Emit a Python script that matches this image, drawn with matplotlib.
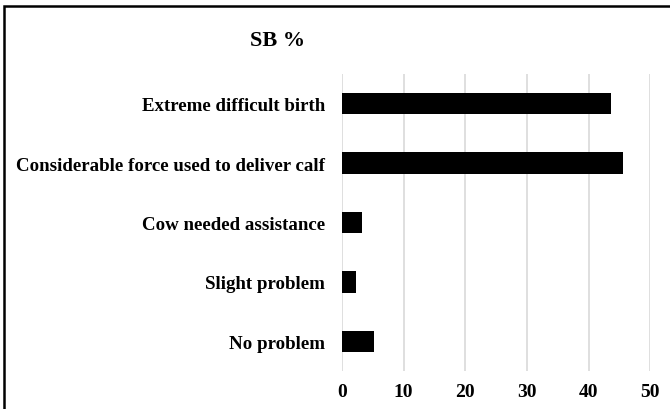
import matplotlib.pyplot as plt
from matplotlib.patches import Rectangle

categories = ["Extreme difficult birth",
              "Considerable force used to deliver calf",
              "Cow needed assistance",
              "Slight problem",
              "No problem"]
sb_pct = [43.6, 45.5, 3.3, 2.3, 5.2]
xticks = [0, 10, 20, 30, 40, 50]

plt.rcParams['font.family'] = ['Liberation Serif', 'DejaVu Serif']
plt.rcParams['font.weight'] = 'bold'

fig = plt.figure(figsize=(6.7, 4.1), dpi=100)
ax = fig.add_axes([0.5104, 0.0927, 0.4603, 0.7244])

ypos = list(range(len(categories)))
ax.barh(ypos, sb_pct, height=0.36, color='black', zorder=3)
ax.set_yticks(ypos)
ax.set_yticklabels(categories, fontsize=13.6, fontweight='bold')
ax.set_ylim(len(categories) - 0.5, -0.5)
ax.set_xlim(0, 50)
ax.set_xticks(xticks)
ax.set_xticklabels([str(t) for t in xticks], fontsize=14, fontweight='bold')
ax.grid(axis='x', color='#d9d9d9', linewidth=1.2, zorder=0)
for s in ax.spines.values():
    s.set_visible(False)
ax.tick_params(length=0)
ax.tick_params(axis='y', pad=12)
ax.tick_params(axis='x', pad=9)

fig.text(0.414, 0.9, "SB %", ha='center', va='center', fontsize=16, fontweight='bold')

# outer frame (only left/top visible in the crop)
fig.patches.append(Rectangle((4 / 670, -0.1), 1.2, 1.1 - 7 / 410, transform=fig.transFigure,
                             fill=False, edgecolor='black', linewidth=1.8))

fig.savefig("out.png", dpi=100)
